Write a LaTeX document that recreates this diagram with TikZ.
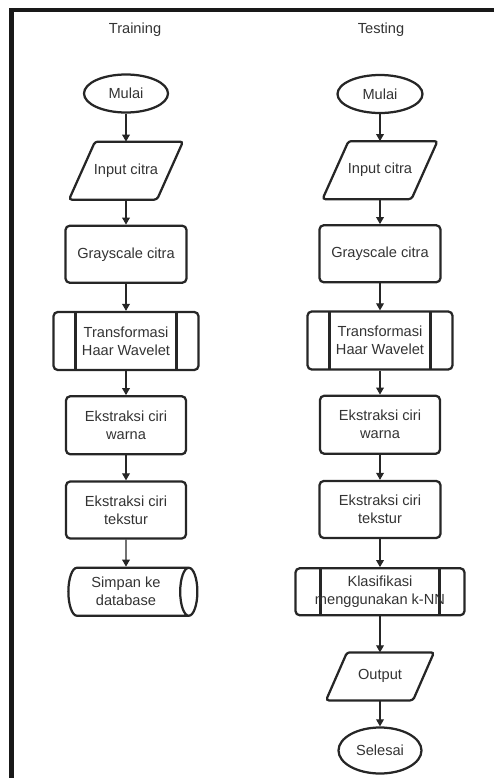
\documentclass[tikz,border=0pt]{standalone}
\usepackage{fontspec}
\setmainfont{Liberation Sans}
\usetikzlibrary{arrows.meta,positioning,shapes.geometric}

\begin{document}
\begin{tikzpicture}[
    font=\fontsize{10.4pt}{12.8pt}\selectfont,
    base/.style={draw=black!85, line width=1.6pt, text=black!80, align=center, inner sep=2pt},
    term/.style={base, ellipse, minimum width=2.1cm, minimum height=0.95cm},
    io/.style={base, draw=none, rectangle, outer sep=0pt, minimum width=2.85cm, minimum height=1.45cm,
        append after command={\pgfextra{\draw[line width=1.6pt, black!85, rounded corners=2pt]
            ([xshift=#1]\tikzlastnode.north west) -- (\tikzlastnode.north east)
            -- ([xshift=-#1]\tikzlastnode.south east) -- (\tikzlastnode.south west) -- cycle;}}},
    io/.default=0.65cm,
    box/.style={base, rectangle, rounded corners=3pt, minimum width=3.0cm, minimum height=1.45cm},
    subproc/.style={box, path picture={
        \draw[line width=1.6pt, black!85] ([xshift=#1]path picture bounding box.north west) -- ([xshift=#1]path picture bounding box.south west)
        ([xshift=-#1]path picture bounding box.north east) -- ([xshift=-#1]path picture bounding box.south east);}},
    db/.style={base, cylinder, aspect=0.5, minimum width=1.2cm, minimum height=3.225cm},
    arrow/.style={-{Triangle[length=5pt,width=5.5pt]}, line width=0.8pt, draw=black!85}
]
\useasboundingbox (0,0) rectangle (12.35,-19.45);
\draw[line width=0.11cm, black!90] (12.35,-0.25) -| (0.2875,-19.45);

% training
\node[text=black!80] (ttrain) at (3.375,-0.75) {Training};
\node[term] (mulai1) at (3.15,-2.3375) {Mulai};
\node[io, below=0.7cm of mulai1] (input1) {Input citra};
\node[box, minimum width=3.025cm, minimum height=1.425cm, below=0.625cm of input1] (gray1) {Grayscale citra};
\node[subproc=0.55cm, minimum width=3.625cm, below=0.675cm of gray1] (trans1) {Transformasi\\Haar Wavelet};
\node[box, below=0.6cm of trans1] (warna1) {Ekstraksi ciri\\warna};
\node[box, minimum height=1.425cm, below=0.625cm of warna1] (tekstur1) {Ekstraksi ciri\\tekstur};
\node[db, below=0.675cm of tekstur1] (simpan) {Simpan ke\\database};

% testing
\node[text=black!80] (ttest) at (9.525,-0.75) {Testing};
\node[term, minimum width=2.125cm] (mulai2) at (9.5,-2.35) {Mulai};
\node[io, minimum width=2.875cm, below=0.675cm of mulai2] (input2) {Input citra};
\node[box, minimum width=3.025cm, minimum height=1.425cm, below=0.625cm of input2] (gray2) {Grayscale citra};
\node[subproc=0.55cm, minimum width=3.625cm, below=0.675cm of gray2] (trans2) {Transformasi\\Haar Wavelet};
\node[box, below=0.6cm of trans2] (warna2) {Ekstraksi ciri\\warna};
\node[box, minimum width=3.025cm, minimum height=1.425cm, below=0.625cm of warna2] (tekstur2) {Ekstraksi ciri\\tekstur};
\node[subproc=0.625cm, minimum width=4.225cm, minimum height=1.175cm, below=0.7cm of tekstur2] (klas) {Klasifikasi\\menggunakan k-NN};
\node[io=0.525cm, minimum width=2.7cm, minimum height=1.2cm, below=0.9cm of klas] (output) {Output};
\node[term, minimum width=2.075cm, minimum height=1.15cm, below=0.65cm of output] (selesai) {Selesai};

\draw[arrow] (mulai1) -- (input1);
\draw[arrow] (input1) -- (gray1);
\draw[arrow] (gray1) -- (trans1);
\draw[arrow] (trans1) -- (warna1);
\draw[arrow] (warna1) -- (tekstur1);
\draw[arrow] (tekstur1) -- (simpan);

\draw[arrow] (mulai2) -- (input2);
\draw[arrow] (input2) -- (gray2);
\draw[arrow] (gray2) -- (trans2);
\draw[arrow] (trans2) -- (warna2);
\draw[arrow] (warna2) -- (tekstur2);
\draw[arrow] (tekstur2) -- (klas);
\draw[arrow] (klas) -- (output);
\draw[arrow] (output) -- (selesai);
\end{tikzpicture}
\end{document}
